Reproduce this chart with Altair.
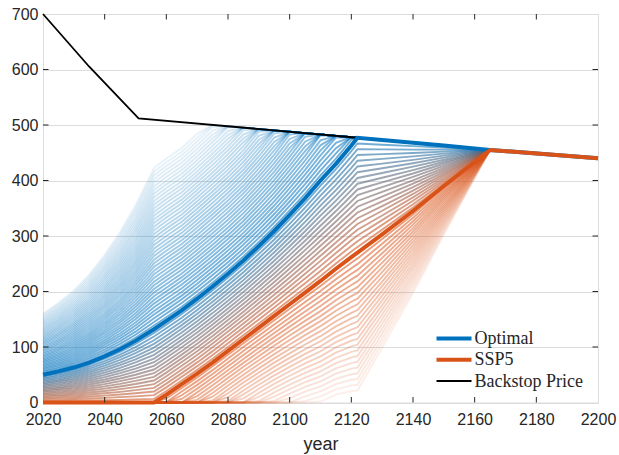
import altair as alt
import numpy as np
import pandas as pd

# ---------------- data ----------------
YEARS = [2020, 2025, 2030, 2035, 2040, 2045, 2050, 2056, 2060, 2065, 2070, 2075,
         2080, 2085, 2090, 2095, 2100, 2105, 2110, 2115, 2120, 2122, 2130, 2140,
         2150, 2165, 2200]
OPTIMAL = [50, 56, 63, 72, 83, 96, 111, 132, 147, 166, 187, 209,
           232, 256, 282, 309, 338, 368, 400, 430, 463, 477, 473, 468,
           463, 455, 440]
SSP5 = [0, 0, 0, 0, 0, 0, 0, 0, 14, 33, 52, 72,
        93, 114, 135, 156, 177, 198, 219, 241, 262, 270, 303, 345,
        390, 455, 440]
BACKSTOP_YEARS = [2020, 2035, 2051, 2122, 2165, 2200]
BACKSTOP = [700, 605, 512, 477, 455, 440]

# weights of the fan of intermediate paths (w=1 optimal, w=0 SSP5)
FAN_WEIGHTS = [round(k * 0.05, 2) for k in range(-24, 65) if k not in (0, 20)]

X_TICKS = [2020, 2040, 2060, 2080, 2100, 2120, 2140, 2160, 2180, 2200]
Y_TICKS = [0, 100, 200, 300, 400, 500, 600, 700]
LEGEND_LABELS = ["Optimal", "SSP5", "Backstop Price"]

BLUE = (0, 114, 189)
ORANGE = (217, 83, 25)
DARK = "#262626"

# ---------------- build tables ----------------
opt = np.array(OPTIMAL, float)
ssp = np.array(SSP5, float)
cap = np.interp(YEARS, BACKSTOP_YEARS, BACKSTOP)


def hexcol(c):
    return "#%02x%02x%02x" % tuple(int(round(v)) for v in c)


rows = []
order = sorted(FAN_WEIGHTS, key=lambda w: -abs(w - 0.5))
for i, w in enumerate(order):
    vals = np.clip(w * opt + (1 - w) * ssp, 0, cap)
    if w >= 1:
        col = BLUE
        op = 0.58 - 0.49 * (w - 1) / 2.2
    elif w <= 0:
        col = ORANGE
        op = 0.58 - 0.49 * (-w) / 1.2
    else:
        col = tuple(w * b + (1 - w) * o for b, o in zip(BLUE, ORANGE))
        op = 0.58
    for y, v in zip(YEARS, vals):
        rows.append({"id": i, "year": y, "value": float(v), "col": hexcol(col), "op": op})
fan = pd.DataFrame(rows)

opt_df = pd.DataFrame({"year": YEARS, "value": OPTIMAL})
ssp_df = pd.DataFrame({"year": YEARS, "value": SSP5})
bs_df = pd.DataFrame({"year": BACKSTOP_YEARS, "value": BACKSTOP})
xt_df = pd.DataFrame({"year": X_TICKS[1:-1]})
yt_df = pd.DataFrame({"value": Y_TICKS[1:-1]})

W, H = 555, 388.5

xscale = alt.Scale(domain=[2020, 2200], nice=False, zero=False)
yscale = alt.Scale(domain=[0, 700], nice=False, zero=False)
xaxis = alt.Axis(values=X_TICKS, format="d", title="year", grid=False, ticks=False,
                 domain=False, labelFont="Liberation Sans", labelFontSize=16,
                 labelColor=DARK, labelPadding=8.5, titleFont="Liberation Sans",
                 titleFontSize=18, titleFontWeight="normal", titleColor=DARK,
                 titlePadding=8, labelFlush=False)
yaxis = alt.Axis(values=Y_TICKS, format="d", title=None, grid=True, gridColor="#dcdcdc",
                 gridWidth=1, ticks=False, domain=False, labelFont="Liberation Sans",
                 labelFontSize=16, labelColor=DARK, labelPadding=5, labelFlush=False)
X = alt.X("year:Q", scale=xscale, axis=xaxis)
Y = alt.Y("value:Q", scale=yscale, axis=yaxis)

fan_layer = alt.Chart(fan).mark_line(strokeWidth=1.9).encode(
    x=X, y=Y, detail="id:N",
    color=alt.Color("col:N", scale=None),
    opacity=alt.Opacity("op:Q", scale=None),
    order=alt.Order("year:Q"),
)
bs_layer = alt.Chart(bs_df).mark_line(color="black", strokeWidth=1.8).encode(x=X, y=Y)
opt_layer = alt.Chart(opt_df).mark_line(color=hexcol(BLUE), strokeWidth=4).encode(x=X, y=Y)
ssp_layer = alt.Chart(ssp_df).mark_line(color=hexcol(ORANGE), strokeWidth=4).encode(x=X, y=Y)

tick_b = alt.Chart(xt_df).mark_rule(color=DARK, strokeWidth=1).encode(
    x=X, y=alt.value(H), y2=alt.value(H - 5.5))
tick_t = alt.Chart(xt_df).mark_rule(color=DARK, strokeWidth=1).encode(
    x=X, y=alt.value(0), y2=alt.value(5.5))
tick_l = alt.Chart(yt_df).mark_rule(color=DARK, strokeWidth=1).encode(
    y=Y, x=alt.value(0), x2=alt.value(5.5))
tick_r = alt.Chart(yt_df).mark_rule(color=DARK, strokeWidth=1).encode(
    y=Y, x=alt.value(W), x2=alt.value(W - 5.5))

leg_colors = [hexcol(BLUE), hexcol(ORANGE), "black"]
leg_widths = [4, 4, 2]
legend_layers = []
for i, (lab, c, sw) in enumerate(zip(LEGEND_LABELS, leg_colors, leg_widths)):
    ypix = 324.5 + 21.3 * i
    d = alt.Data(values=[{"label": lab}])
    legend_layers.append(
        alt.Chart(d).mark_rule(color=c, strokeWidth=sw).encode(
            x=alt.value(393.5), x2=alt.value(428.5), y=alt.value(ypix)))
    legend_layers.append(
        alt.Chart(d).mark_text(align="left", baseline="middle", font="Liberation Serif",
                               fontSize=18, color=DARK).encode(
            x=alt.value(431.5), y=alt.value(ypix + 0.5), text="label:N"))

chart = alt.layer(
    fan_layer, bs_layer, opt_layer, ssp_layer, tick_b, tick_t, tick_l, tick_r,
    *legend_layers
).properties(
    width=W, height=H,
    autosize=alt.AutoSizeParams(type="none"),
    padding={"left": 43, "top": 14, "right": 21, "bottom": 53},
).configure_view(
    stroke=DARK, strokeWidth=1
).configure(background="white")

chart.save("out.html", embed_options={"renderer": "svg", "actions": False})
